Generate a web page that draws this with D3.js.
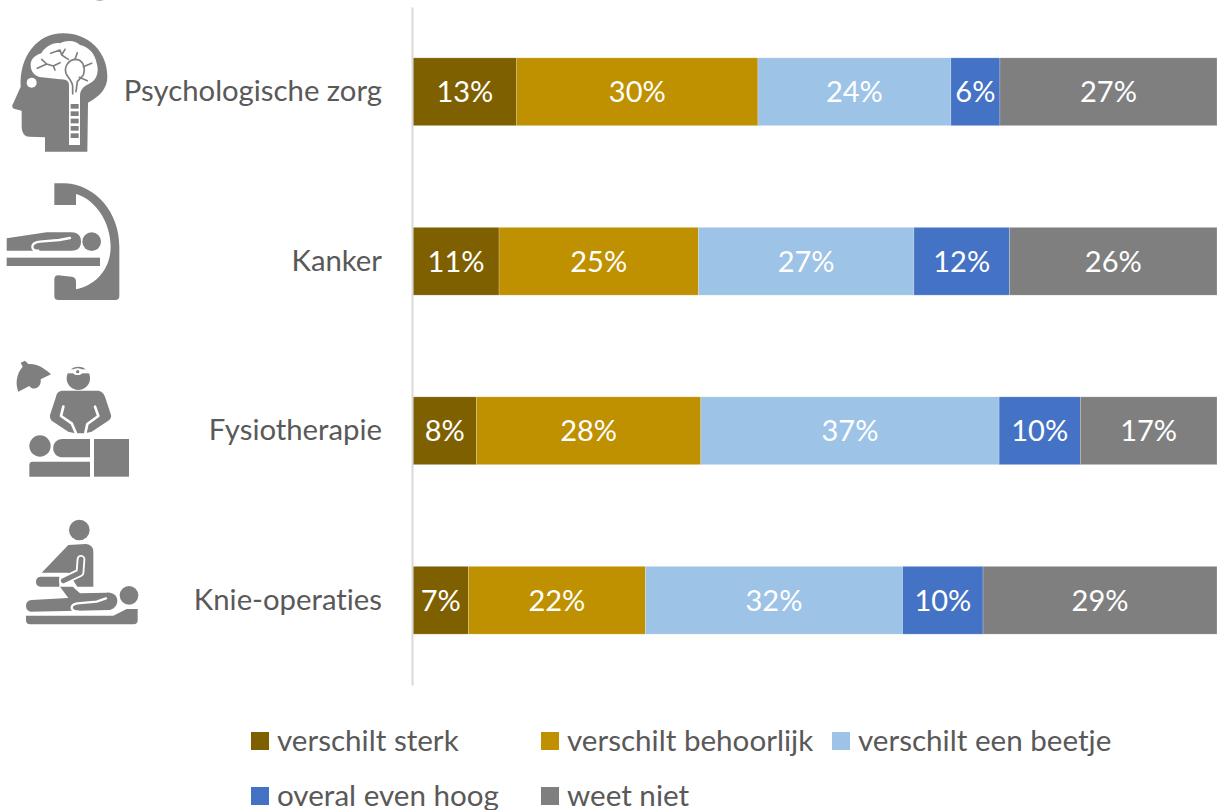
<!DOCTYPE html>
<html>
<head>
<meta charset="utf-8">
<script src="https://cdnjs.cloudflare.com/ajax/libs/d3/7.8.5/d3.min.js"></script>
<style>
  html, body { margin: 0; padding: 0; background: #fff; overflow: hidden; }
  text { font-family: Lato, "Open Sans", sans-serif; font-variant-ligatures: none; }
</style>
</head>
<body>
<svg id="chart" width="1217" height="810"></svg>
<script>
const categories = ['Psychologische zorg', 'Kanker', 'Fysiotherapie', 'Knie-operaties'];
const seriesNames = ['verschilt sterk', 'verschilt behoorlijk', 'verschilt een beetje', 'overal even hoog', 'weet niet'];
const seriesColors = ['#7F6000', '#BF9000', '#9DC3E6', '#4472C4', '#7F7F7F'];

// one array per series, same order as categories
const verschiltSterk = [12.9, 10.7, 7.9, 6.9];
const verschiltBehoorlijk = [30.0, 24.8, 27.9, 22.0];
const verschiltBeetje = [24.0, 26.8, 37.1, 32.0];
const overalHoog = [6.1, 11.9, 10.1, 10.0];
const weetNiet = [27.0, 25.8, 17.0, 29.1];
const seriesValues = [verschiltSterk, verschiltBehoorlijk, verschiltBeetje, overalHoog, weetNiet];

const svg = d3.select('#chart');

const x = d3.scaleLinear().domain([0, 100]).range([413, 1217]);
const y = d3.scaleBand().domain(categories).range([7, 685]).paddingInner(0.6).paddingOuter(0.3);

const rows = categories.map((c, i) => {
  const row = { cat: c };
  seriesNames.forEach((s, j) => { row[s] = seriesValues[j][i]; });
  return row;
});
const stacked = d3.stack().keys(seriesNames)(rows);

// Bars
const layer = svg.selectAll('g.layer')
    .data(stacked)
    .join('g')
    .attr('class', 'layer')
    .attr('fill', (d, i) => seriesColors[i]);

layer.selectAll('rect')
    .data(d => d)
    .join('rect')
    .attr('x', d => x(d[0]))
    .attr('y', d => y(d.data.cat))
    .attr('width', d => x(d[1]) - x(d[0]))
    .attr('height', y.bandwidth())
    .attr('stroke', '#fff')
    .attr('stroke-opacity', 0.35)
    .attr('stroke-width', 0.6);

layer.selectAll('text')
    .data(d => d)
    .join('text')
    .attr('x', d => (x(d[0]) + x(d[1])) / 2)
    .attr('y', d => y(d.data.cat) + y.bandwidth() / 2)
    .attr('dy', '0.37em')
    .attr('text-anchor', 'middle')
    .attr('font-size', 29)
    .attr('fill', '#fff')
    .text(d => Math.round(d[1] - d[0]) + '%');

// Category axis
const axis = svg.append('g')
    .attr('transform', 'translate(412,0)')
    .call(d3.axisLeft(y).tickSize(0).tickPadding(30));
axis.select('.domain').attr('stroke', '#D9D9D9').attr('stroke-width', 2);
axis.selectAll('text').attr('font-size', 29.3).attr('fill', '#595959').style('font-family', 'Lato');

// Legend
const legendPos = [[251, 732], [541, 732], [832, 732], [251, 787], [541, 787]];
const legend = svg.selectAll('g.legend')
    .data(seriesNames)
    .join('g')
    .attr('class', 'legend')
    .attr('transform', (d, i) => `translate(${legendPos[i][0]},${legendPos[i][1]})`);
legend.append('rect')
    .attr('width', 18)
    .attr('height', 18)
    .attr('fill', (d, i) => seriesColors[i]);
legend.append('text')
    .attr('x', 26)
    .attr('y', 19)
    .attr('font-size', 29.6)
    .attr('fill', '#595959')
    .text(d => d);

// Title runs off the top of the picture, only descenders are left
svg.append('g')
    .attr('fill', '#7F7F7F')
    .attr('font-size', 40)
    .attr('font-weight', 700)
    .selectAll('text')
    .data([['g,', 89], ['y', 382], ['p', 858]])
    .join('text')
    .attr('x', d => d[1])
    .attr('y', -7)
    .text(d => d[0]);

// Icons, drawn at 3x and scaled down
const iconGrey = '#7F7F7F';
function icon(dy) {
  return svg.append('g').attr('transform', `translate(0,${dy}) scale(${1 / 3})`);
}
function fillPath(g, d) { g.append('path').attr('d', d).attr('fill', iconGrey); }
function whitePath(g, d) { g.append('path').attr('d', d).attr('fill', '#fff'); }
function linePath(g, d, col, w) {
  g.append('path').attr('d', d).attr('fill', 'none').attr('stroke', col)
    .attr('stroke-width', w).attr('stroke-linecap', 'round').attr('stroke-linejoin', 'round');
}
function dot(g, cx, cy, r, col) {
  g.append('circle').attr('cx', cx).attr('cy', cy).attr('r', r).attr('fill', col);
}

// head with brain
const head = icon(20);
fillPath(head, 'M190 40C265 40 322 95 322 170C322 205 300 228 264 248L262 395L135 395L135 352L88 350C72 350 65 335 65 320L65 272L42 266C35 263 36 255 40 250L62 200C58 110 110 40 190 40Z');
whitePath(head, 'M92 135C92 115 108 105 124 100C135 80 160 66 180 70C200 60 225 60 240 75C265 80 285 100 290 130C298 155 290 180 270 190C255 198 242 205 240 225L240 375L207 375L207 195C207 180 195 178 180 178L125 172C105 170 92 155 92 135Z');
dot(head, 95, 188, 15, '#fff');
[252, 274, 296, 318, 340].forEach(ry => {
  head.append('rect').attr('x', 212).attr('y', ry).attr('width', 24).attr('height', 14).attr('fill', iconGrey);
});
linePath(head, 'M218 222L218 200C218 185 205 175 198 160C192 140 205 120 225 118', iconGrey, 5);
linePath(head, 'M225 118C248 118 258 140 250 165L232 185L228 215', iconGrey, 5);
linePath(head, 'M205 118L185 105L180 90L152 100M185 105L195 88', iconGrey, 5);
linePath(head, 'M112 145L140 132L160 138L180 128M140 132L125 118M160 138L165 150', iconGrey, 5);
linePath(head, 'M250 140L275 130M238 172L262 182M225 118L232 98', iconGrey, 5);

// c-arm scanner
const scan = icon(20);
fillPath(scan, 'M163 490L195 490C290 495 358 580 358 680L358 828Q358 840 346 840L175 840Q163 840 163 828L163 778Q163 766 175 766L215 770Q228 772 228 785L228 808C290 795 332 745 332 680C332 610 290 540 228 522L228 555L163 555Z');
fillPath(scan, 'M20 655L140 637L215 637C235 637 243 650 243 665C243 680 235 692 215 692L20 692Z');
linePath(scan, 'M210 654L178 660L120 665Q97 668 97 680Q97 692 115 692', '#fff', 7);
dot(scan, 275, 665, 28, iconGrey);
scan.append('rect').attr('x', 20).attr('y', 713).attr('width', 280).attr('height', 25).attr('fill', iconGrey);

// physiotherapist with lamp
const fysio = icon(350);
fillPath(fysio, 'M62 38L75 32L85 42C110 40 135 55 153 73L122 88C126 110 102 126 88 108L55 125C45 100 50 70 68 50Z');
dot(fysio, 235, 85, 35, iconGrey);
fysio.append('rect').attr('x', 200).attr('y', 58).attr('width', 72).attr('height', 12).attr('fill', '#fff');
fysio.append('ellipse').attr('cx', 233).attr('cy', 65).attr('rx', 14).attr('ry', 10).attr('fill', '#fff');
dot(fysio, 233, 65, 5, iconGrey);
fillPath(fysio, 'M185 122L295 122Q310 125 315 140L333 195Q335 205 325 212L275 245L255 250L225 250L205 245L155 212Q148 205 150 195L168 140Q170 125 185 122Z');
linePath(fysio, 'M190 170L183 198L215 220L228 250', '#fff', 8);
linePath(fysio, 'M285 170L295 198L262 222L256 250', '#fff', 8);
dot(fysio, 120, 288, 32, iconGrey);
fillPath(fysio, 'M188 267L270 267L270 322L188 322C150 322 150 267 188 267Z');
fillPath(fysio, 'M98 335L270 335L270 380L88 380L88 345Q88 335 98 335Z');
fysio.append('rect').attr('x', 282).attr('y', 267).attr('width', 105).attr('height', 113).attr('fill', iconGrey);

// knee treatment
const knie = icon(350);
dot(knie, 238, 540, 31, iconGrey);
fillPath(knie, 'M205 585L258 582Q280 585 280 605L280 710L232 710L205 668L125 668Z');
fillPath(knie, 'M122 680L178 680L178 710L122 710C103 710 103 680 122 680Z');
linePath(knie, 'M243 628L240 668L190 692', '#fff', 26);
linePath(knie, 'M243 628L240 668L190 692', iconGrey, 15);
fillPath(knie, 'M78 768Q78 752 95 750L205 744L180 710L218 710L240 730L320 728C360 725 362 772 330 780L92 785Q78 782 78 768Z');
linePath(knie, 'M318 745L290 755L232 760Q215 763 215 773Q215 783 235 785', '#fff', 7);
dot(knie, 387, 736, 28, iconGrey);
fillPath(knie, 'M78 797L340 797L380 777L413 777L413 810Q413 823 400 823L90 823Q78 823 78 810Z');
</script>
</body>
</html>
